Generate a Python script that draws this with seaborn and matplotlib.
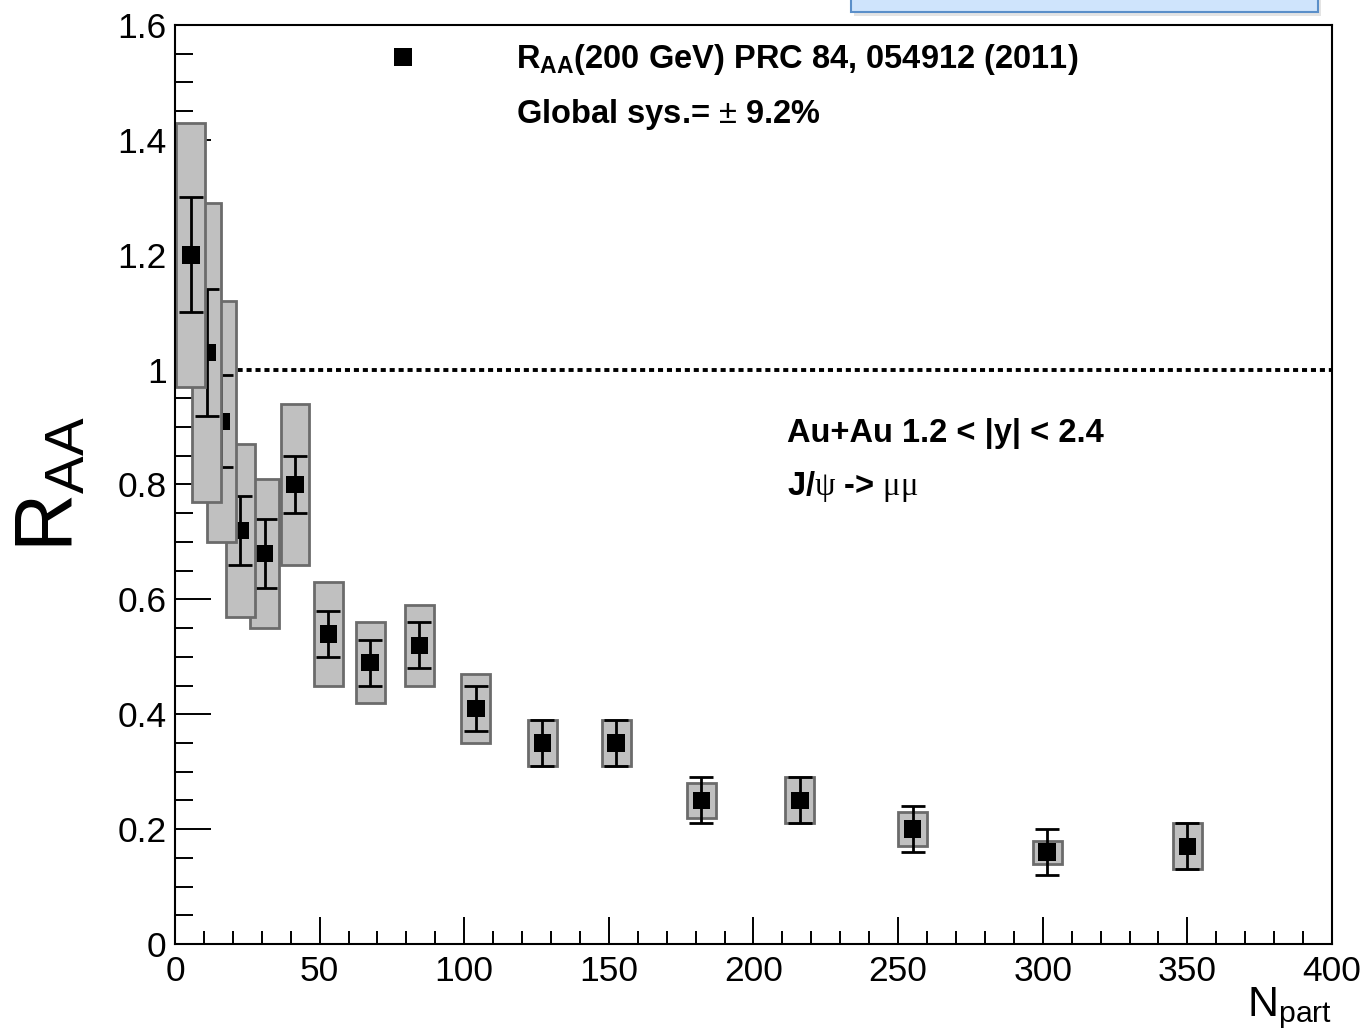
import matplotlib
matplotlib.use("Agg")
import matplotlib.pyplot as plt
import seaborn as sns
import pandas as pd
from matplotlib.ticker import MultipleLocator, FuncFormatter
from matplotlib.lines import Line2D
from matplotlib.patches import Rectangle

# ---------------- data ----------------
npart = [5.5, 11, 16, 22.5, 31, 41.5, 53, 67.5, 84.5, 104, 127, 152.5, 182, 216, 255, 301.5, 350]
raa = [1.20, 1.03, 0.91, 0.72, 0.68, 0.80, 0.54, 0.49, 0.52, 0.41, 0.35, 0.35, 0.25, 0.25, 0.20, 0.16, 0.17]
stat_err = [0.10, 0.11, 0.08, 0.06, 0.06, 0.05, 0.04, 0.04, 0.04, 0.04, 0.04, 0.04, 0.04, 0.04, 0.04, 0.04, 0.04]
sys_err = [0.23, 0.26, 0.21, 0.15, 0.13, 0.14, 0.09, 0.07, 0.07, 0.06, 0.04, 0.04, 0.03, 0.04, 0.03, 0.02, 0.04]
box_width = 10

legend_labels = [r"$\mathbf{R_{AA}}$(200 GeV) PRC 84, 054912 (2011)",
                 r"Global sys.= $\pm$ 9.2%"]
text_sel = "Au+Au 1.2 < |y| < 2.4"
text_chan = r"J/$\mathsf{\psi}$ -> $\mathsf{\mu\mu}$"
x_ticks = [0, 50, 100, 150, 200, 250, 300, 350, 400]
y_ticks = [0, 0.2, 0.4, 0.6, 0.8, 1.0, 1.2, 1.4, 1.6]

df = pd.DataFrame({"npart": npart, "raa": raa, "stat": stat_err, "sys": sys_err})

# ---------------- style ----------------
sns.set_theme(style="ticks")
plt.rcParams["font.family"] = ["Liberation Sans", "DejaVu Sans"]
plt.rcParams["mathtext.fontset"] = "custom"
plt.rcParams["mathtext.rm"] = "Liberation Sans"
plt.rcParams["mathtext.it"] = "Liberation Sans:italic"
plt.rcParams["mathtext.bf"] = "Liberation Sans:bold"
plt.rcParams["mathtext.sf"] = "Liberation Serif"
for k in ["text.color", "axes.labelcolor", "xtick.color", "ytick.color", "axes.edgecolor"]:
    plt.rcParams[k] = "black"

fig = plt.figure(figsize=(13.68, 10.30), dpi=100)
fig.patch.set_facecolor("white")
ax = fig.add_axes([0.12792, 0.08350, 0.84576, 0.89223])

# light-blue box peeking in at the top (with a soft shadow)
fig.patches.append(Rectangle((854 / 1368, 1 - 16 / 1030), 467 / 1368, 0.03,
                             transform=fig.transFigure, facecolor="#e4e4e4",
                             edgecolor="none", clip_on=False))
fig.patches.append(Rectangle((851 / 1368, 1 - 12 / 1030), 467 / 1368, 0.03,
                             transform=fig.transFigure, facecolor="#cfe4fc",
                             edgecolor="#5b8fc9", lw=1.5, clip_on=False))

ax.set_xlim(0, 400)
ax.set_ylim(0, 1.6)

# reference line at 1
ax.axhline(1.0, color="black", lw=2.8, ls=(0, (1.3, 1.0)), zorder=1)

n = len(df)
# systematic boxes
bars = ax.bar(df["npart"], 2 * df["sys"], bottom=df["raa"] - df["sys"], width=box_width,
              color="#c0c0c0", edgecolor="#6b6b6b", linewidth=2.0)
for i, p in enumerate(bars.patches):
    p.set_zorder(10 + 3 * (n - i))

# stat error bars and markers (earlier points drawn on top)
for i in range(n):
    ax.errorbar(df["npart"][i], df["raa"][i], yerr=df["stat"][i], fmt="none",
                ecolor="black", elinewidth=2.0, capsize=8.6, capthick=2.0,
                zorder=11 + 3 * (n - i))
    sns.scatterplot(x=[df["npart"][i]], y=[df["raa"][i]], marker="s", s=160,
                    color="black", edgecolor="none", linewidth=0,
                    zorder=12 + 3 * (n - i), ax=ax, legend=False)

# ticks
ax.set_xticks(x_ticks)
ax.set_yticks(y_ticks)
ax.xaxis.set_minor_locator(MultipleLocator(10))
ax.yaxis.set_minor_locator(MultipleLocator(0.05))
fmt = FuncFormatter(lambda v, p: f"{v:g}")
ax.xaxis.set_major_formatter(fmt)
ax.yaxis.set_major_formatter(fmt)
ax.tick_params(axis="both", which="both", direction="in", top=False, right=False, colors="black")
ax.tick_params(axis="y", which="major", length=26, width=1.4, pad=6, labelsize=25.5)
ax.tick_params(axis="y", which="minor", length=13, width=1.4)
ax.tick_params(axis="x", which="major", length=19.4, width=1.4, pad=8, labelsize=25.5)
ax.tick_params(axis="x", which="minor", length=9.7, width=1.4)
for s in ax.spines.values():
    s.set_linewidth(1.5)
    s.set_color("black")
    s.set_zorder(100)

# axis labels
ax.set_ylabel(r"$\mathrm{R}_{\mathrm{AA}}$", fontsize=58)
ax.yaxis.set_label_coords(-0.074, 0.5)
ax.set_xlabel(r"$\mathrm{N}_{\mathrm{part}}$", fontsize=31, loc="right")
ax.xaxis.set_label_coords(1.0, -0.0446)

# legend
handles = [Line2D([], [], marker="s", ls="none", color="black", markersize=12.7, markeredgewidth=0),
           Line2D([], [], ls="none")]
leg = ax.legend(handles, legend_labels, loc="upper left", bbox_to_anchor=(0.183, 0.981),
                frameon=False, prop={"family": "Liberation Sans", "weight": "bold", "size": 23.5},
                handlelength=1.0, handletextpad=2.97, borderpad=0, borderaxespad=0,
                labelspacing=0.6)

# annotations
ax.text(0.529, 0.546, text_sel, transform=ax.transAxes, fontsize=23.5,
        fontweight="bold", va="baseline")
ax.text(0.529, 0.4886, text_chan, transform=ax.transAxes, fontsize=23.5,
        fontweight="bold", va="baseline")

fig.savefig("out.png", dpi=100)
